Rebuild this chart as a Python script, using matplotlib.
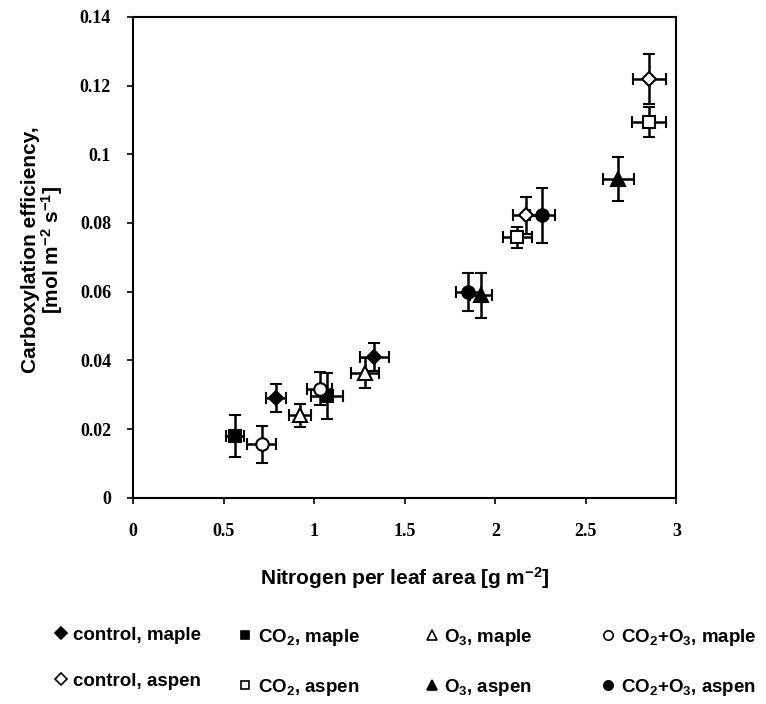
import matplotlib

matplotlib.use("Agg")

import matplotlib.pyplot as plt  # noqa: E402
from matplotlib.lines import Line2D  # noqa: E402

plt.rcParams.update(
    {
        "font.family": "Liberation Sans",
        "font.weight": "bold",
        "mathtext.fontset": "custom",
        "mathtext.rm": "Liberation Sans:bold",
        "mathtext.bf": "Liberation Sans:bold",
        "mathtext.it": "Liberation Sans:bold",
        "mathtext.default": "rm",
    }
)

# nitrogen per leaf area [g m-2] / carboxylation efficiency, two points per group
maple_control_x = [0.79, 1.33]
maple_control_y = [0.029, 0.041]
maple_control_xerr = [0.055, 0.08]
maple_control_yerr = [0.004, 0.004]

maple_co2_x = [0.56, 1.07]
maple_co2_y = [0.018, 0.0295]
maple_co2_xerr = [0.05, 0.09]
maple_co2_yerr = [0.006, 0.0067]

maple_o3_x = [0.92, 1.28]
maple_o3_y = [0.024, 0.0364]
maple_o3_xerr = [0.06, 0.08]
maple_o3_yerr = [0.0033, 0.0044]

maple_co2o3_x = [0.71, 1.03]
maple_co2o3_y = [0.0155, 0.0318]
maple_co2o3_xerr = [0.08, 0.07]
maple_co2o3_yerr = [0.0055, 0.0047]

aspen_control_x = [2.17, 2.85]
aspen_control_y = [0.0822, 0.1219]
aspen_control_xerr = [0.075, 0.09]
aspen_control_yerr = [0.0055, 0.0073]

aspen_co2_x = [2.12, 2.85]
aspen_co2_y = [0.0758, 0.1093]
aspen_co2_xerr = [0.08, 0.095]
aspen_co2_yerr = [0.003, 0.0044]

aspen_o3_x = [1.92, 2.68]
aspen_o3_y = [0.0589, 0.0927]
aspen_o3_xerr = [0.06, 0.084]
aspen_o3_yerr = [0.0066, 0.0064]

aspen_co2o3_x = [1.85, 2.26]
aspen_co2o3_y = [0.060, 0.0822]
aspen_co2o3_xerr = [0.07, 0.07]
aspen_co2o3_yerr = [0.0055, 0.008]

x_ticks = [0, 0.5, 1, 1.5, 2, 2.5, 3]
x_ticklabels = ["0", "0.5", "1", "1.5", "2", "2.5", "3"]
y_ticks = [0, 0.02, 0.04, 0.06, 0.08, 0.1, 0.12, 0.14]
y_ticklabels = ["0", "0.02", "0.04", "0.06", "0.08", "0.1", "0.12", "0.14"]

series = [
    ("control, maple", maple_control_x, maple_control_y, maple_control_xerr, maple_control_yerr, "D", "black"),
    ("CO$_2$, maple", maple_co2_x, maple_co2_y, maple_co2_xerr, maple_co2_yerr, "s", "black"),
    ("O$_3$, maple", maple_o3_x, maple_o3_y, maple_o3_xerr, maple_o3_yerr, "^", "white"),
    ("CO$_2$+O$_3$, maple", maple_co2o3_x, maple_co2o3_y, maple_co2o3_xerr, maple_co2o3_yerr, "o", "white"),
    ("control, aspen", aspen_control_x, aspen_control_y, aspen_control_xerr, aspen_control_yerr, "D", "white"),
    ("CO$_2$, aspen", aspen_co2_x, aspen_co2_y, aspen_co2_xerr, aspen_co2_yerr, "s", "white"),
    ("O$_3$, aspen", aspen_o3_x, aspen_o3_y, aspen_o3_xerr, aspen_o3_yerr, "^", "black"),
    ("CO$_2$+O$_3$, aspen", aspen_co2o3_x, aspen_co2o3_y, aspen_co2o3_xerr, aspen_co2o3_yerr, "o", "black"),
]
marker_sizes = {"D": 7.5, "s": 8.5, "^": 9.5, "o": 9}

fig = plt.figure(figsize=(7.66, 7.04), dpi=100)
ax = fig.add_axes([0.174, 0.293, 0.709, 0.683])

for label, xs, ys, xe, ye, mk, face in series:
    ax.errorbar(xs, ys, xerr=xe, yerr=ye, fmt=mk, ms=marker_sizes[mk],
                mfc=face, mec="black", mew=1.5, ecolor="black",
                elinewidth=1.8, capsize=4.5, capthick=1.8, zorder=3)

ax.set_xlim(0, 3)
ax.set_ylim(0, 0.14)
ax.set_xticks(x_ticks)
ax.set_xticklabels(x_ticklabels)
ax.set_yticks(y_ticks)
ax.set_yticklabels(y_ticklabels)
ax.tick_params(direction="out", length=4, width=1.2)
ax.tick_params(axis="x", pad=14)
ax.tick_params(axis="y", pad=12)
for lbl in ax.get_xticklabels() + ax.get_yticklabels():
    lbl.set_family("Liberation Serif")
    lbl.set_fontweight("bold")
    lbl.set_fontsize(13)
for sp in ax.spines.values():
    sp.set_linewidth(1.5)

ax.set_xlabel("Nitrogen per leaf area [g m$^{-2}$]", fontsize=15,
              fontweight="bold", labelpad=18)
ax.set_ylabel("Carboxylation efficiency,\n[mol m$^{-2}$ s$^{-1}$]", fontsize=15,
              fontweight="bold", linespacing=0.95)
ax.yaxis.set_label_coords(-0.125, 0.515)

# legend: four columns of two entries each, placed by hand
col_x = [0.072, 0.313, 0.557, 0.787]
for col in range(4):
    items = [series[col], series[col + 4]]
    handles = [Line2D([], [], ls="none", marker=s[5], ms=marker_sizes[s[5]] * 0.75,
                      mfc=s[6], mec="black", mew=1.2) for s in items]
    fig.legend(handles, [s[0] for s in items], loc="upper left",
               bbox_to_anchor=(col_x[col], 0.110), frameon=False,
               fontsize=13.5, handlelength=0.6, handletextpad=0.35,
               borderpad=0, borderaxespad=0, labelspacing=1.55)

fig.savefig("out.png", dpi=100)
